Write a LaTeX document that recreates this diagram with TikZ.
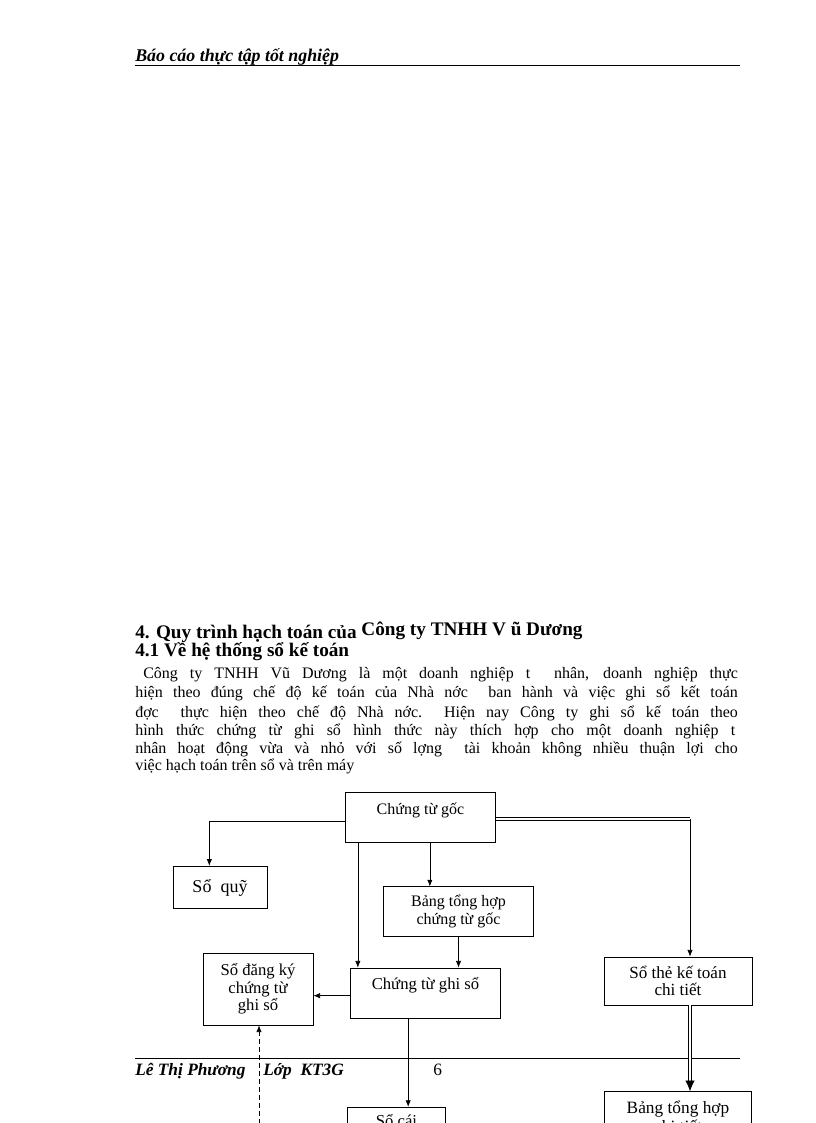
\documentclass[tikz,border=0pt]{standalone}
\usepackage{fontspec}
\setmainfont{Liberation Serif}
\usetikzlibrary{positioning, arrows.meta, calc}

\begin{document}
\begin{tikzpicture}[
    x=0.75pt, y=-0.75pt,
    >={Latex[length=5pt,width=4pt]},
    % Styles
    box/.style={draw, line width=0.6pt, inner sep=1pt, align=center, font=\fontsize{12}{13}\selectfont},
    link/.style={->, line width=0.5pt},
    dbl_link/.style={double, double distance=1.1pt, line width=0.7pt},
    page_text/.style={font=\fontsize{13.4}{15}\selectfont\bfseries\itshape, anchor=base west, inner sep=0pt},
    head_text/.style={font=\fontsize{14.4}{16}\selectfont\bfseries, anchor=base west, inner sep=0pt},
    para_line/.style={font=\fontsize{12}{14}\selectfont, anchor=base west, inner sep=0pt}
]
\useasboundingbox (0,0) rectangle (816,1123);
\clip (0,0) rectangle (816,1123);

% Page header and footer
\node[page_text] (hdr) at (135,62) {Báo cáo thực tập tốt nghiệp};
\draw[line width=0.6pt] (135,65) -- (740,65);
\draw[line width=0.6pt] (135,1058) -- (740,1058);
\node[page_text, font=\fontsize{13}{15}\selectfont\bfseries\itshape] (ftr_name) at (135,1075) {Lê Thị Phương};
\node[page_text, font=\fontsize{13}{15}\selectfont\bfseries\itshape] (ftr_class) at (263,1075) {Lớp\ \ KT3G};
\node[para_line, font=\fontsize{13}{15}\selectfont] (ftr_page) at (433,1075) {6};

% Headings
\node[head_text] (h1) at (135,638) {4. Quy trình hạch toán của \raisebox{2pt}{Công ty TNHH V ũ Dương}};
\node[head_text] (h2) at (135,656) {4.1 Về hệ thống sổ kế toán};

% Paragraph
\node[para_line] (p1) at (135,678) {\makebox[452pt][s]{\hspace*{6pt}Công ty TNHH Vũ Dương là một doanh nghiệp t\ \ nhân, doanh nghiệp thực}};
\node[para_line] (p2) at (135,697) {\makebox[452pt][s]{hiện theo đúng chế độ kế toán của Nhà nớc\ \ ban hành và việc ghi sổ kết toán}};
\node[para_line] (p3) at (135,717) {\makebox[452pt][s]{đợc\ \ thực hiện theo chế độ Nhà nớc.\ \ Hiện nay Công ty ghi sổ kế toán theo}};
\node[para_line] (p4) at (135,735) {\makebox[450pt][s]{hình thức chứng từ ghi sổ hình thức này thích hợp cho một doanh nghiệp t}};
\node[para_line] (p5) at (135,753) {\makebox[452pt][s]{nhân hoạt động vừa và nhỏ với số lợng\ \ tài khoản không nhiều thuận lợi cho}};
\node[para_line] (p6) at (135,770) {việc hạch toán trên sổ và trên máy};

% Boxes
\node[box, minimum width=113pt, minimum height=37pt] (cg) at (420.5,817.5) {Chứng từ gốc\\ \mbox{}};
\node[box, minimum width=70.5pt, minimum height=32pt, font=\fontsize{13.5}{15}\selectfont] (sq) at (220,887.5) {Sổ~~quỹ};
\node[box, minimum width=112pt, minimum height=37pt] (bth) at (458.5,911.5) {Bảng tổng hợp\\chứng từ gốc};
\node[box, minimum width=112pt, minimum height=37.5pt, font=\fontsize{12.5}{14}\selectfont] (ctgs) at (425.5,993) {Chứng từ ghi sổ\\ \mbox{}};
\node[box, minimum width=82.5pt, minimum height=54pt, font=\fontsize{12.5}{13}\selectfont] (dk) at (258,989) {Sổ đăng ký\\chứng từ\\ghi sổ};
\node[box, minimum width=111pt, minimum height=36pt, font=\fontsize{12.8}{12.5}\selectfont] (stk) at (678,981) {Sổ thẻ kế toán\\chi tiết};
\node[box, minimum width=110pt, minimum height=38pt, font=\fontsize{13}{14}\selectfont] (btct) at (678,1117) {Bảng tổng hợp\\chi tiết};
\node[box, minimum width=74pt, minimum height=34pt, font=\fontsize{12.5}{14}\selectfont] (sc) at (396.5,1130) {Sổ cái\\ \mbox{}};

% Connectors
\draw[link] ([yshift=-2.6pt]cg.west) -| ([xshift=-8pt]sq.north);
\draw[link] ([xshift=-47pt]cg.south) -- ([xshift=-47pt]cg.south |- ctgs.north);
\draw[link] ([xshift=7pt]cg.south) -- ([xshift=7pt]cg.south |- bth.north);
\draw[link] (bth.south) -- (bth.south |- ctgs.north);
\draw[link] ([yshift=-2pt]ctgs.west) -- ([yshift=-2pt]ctgs.west -| dk.east);
\coordinate (dk_in) at (259,1140);
\draw[link, dash pattern=on 4pt off 2pt] (dk_in) -- (dk_in |- dk.south);

\coordinate (cg_r) at ([yshift=-1pt]cg.east);
\coordinate (rturn) at ([xshift=9pt]stk.north |- cg_r);
\draw[dbl_link] (cg_r) -- (rturn);
\draw[link] (rturn) -- ([xshift=9pt]stk.north);

\coordinate (btct_in) at ([xshift=9pt]stk.south |- btct.north);
\draw[dbl_link, shorten >=7pt] ([xshift=9pt]stk.south) -- (btct_in);
\draw[-{Latex[length=8pt,width=7pt]}, line width=0.5pt] ([yshift=8pt]btct_in) -- (btct_in);

\draw[link] ([xshift=-13pt]ctgs.south) -- ([xshift=-13pt]ctgs.south |- sc.north);

\end{tikzpicture}
\end{document}
